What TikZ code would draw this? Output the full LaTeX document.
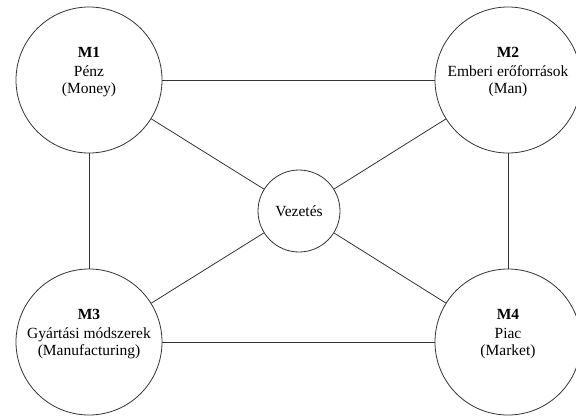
\documentclass[tikz,border=0pt]{standalone}
\usepackage{fontspec}
\setmainfont{Liberation Serif}
\begin{document}
\begin{tikzpicture}[x=1pt,y=-1pt,
  bigc/.style={circle,draw=black!80,line width=0.8pt,minimum size=146pt,inner sep=0pt},
  smallc/.style={circle,draw=black!80,line width=0.8pt,minimum size=82pt,inner sep=0pt,
    font=\fontsize{15.5pt}{17pt}\selectfont},
  txt/.style={align=center,inner sep=0pt,font=\fontsize{15.5pt}{16.5pt}\selectfont},
  link/.style={draw=black!80,line width=0.8pt}]
\useasboundingbox (0,0) rectangle (576,416);
% the four M resources
\node[bigc] (m1) at (89,80) {};
\node[bigc] (m2) at (508,80) {};
\node[bigc] (m3) at (89,342) {};
\node[bigc] (m4) at (508,342) {};
% management at the centre
\node[smallc] (v) at (299,211) {Vezetés};
% labels inside the circles
\node[txt] (t1) at ([yshift=8pt]m1.center) {\textbf{M1}\\[3pt]Pénz\\(Money)};
\node[txt] (t2) at ([yshift=8pt]m2.center) {\textbf{M2}\\[3pt]Emberi erőforrások\\(Man)};
\node[txt] (t3) at ([yshift=8pt]m3.center) {\textbf{M3}\\[3pt]Gyártási módszerek\\(Manufacturing)};
\node[txt] (t4) at ([yshift=8pt]m4.center) {\textbf{M4}\\[3pt]Piac\\(Market)};
% connections
\path[link] (m1) -- (m2);
\path[link] (m3) -- (m4);
\path[link] (m1) -- (m3);
\path[link] (m2) -- (m4);
\path[link] (m1) -- (v);
\path[link] (m2) -- (v);
\path[link] (m3) -- (v);
\path[link] (m4) -- (v);
\end{tikzpicture}
\end{document}
